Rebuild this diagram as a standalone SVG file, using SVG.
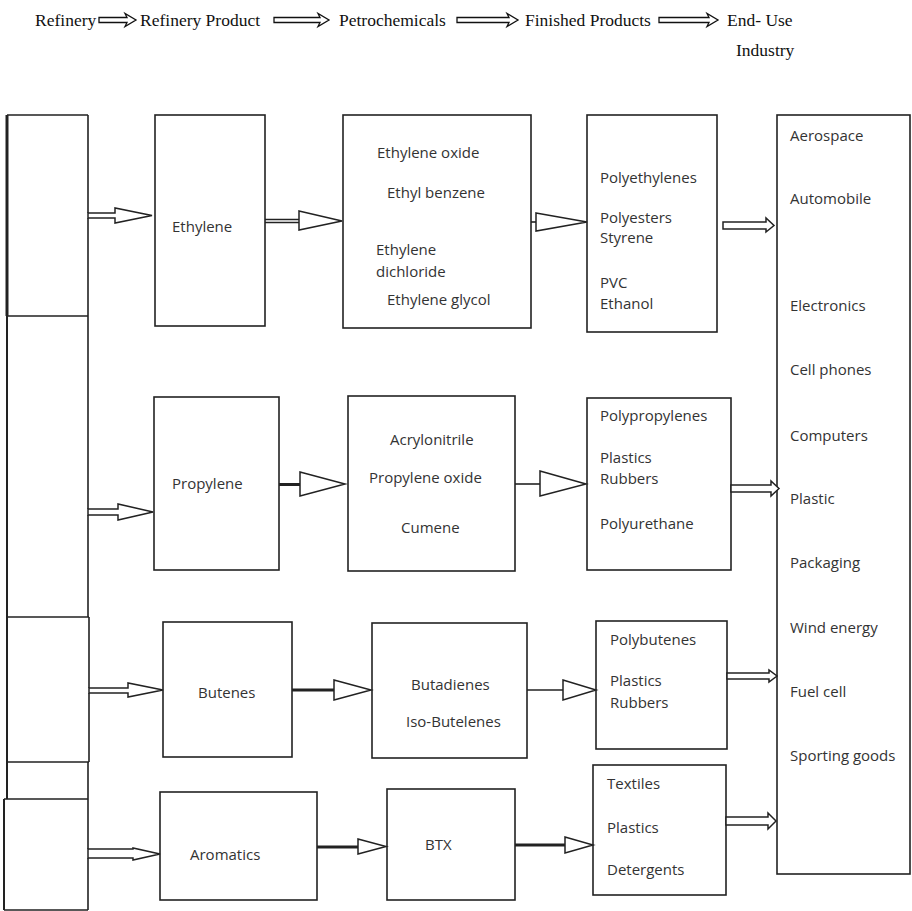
<svg xmlns="http://www.w3.org/2000/svg" width="912" height="911" viewBox="0 0 912 911">
<style>
.bx{fill:none;stroke:#222;stroke-width:1.6}
.ln{fill:none;stroke:#222;stroke-width:1.6}
.ar{fill:#fff;stroke:#222;stroke-width:1.5;stroke-linejoin:miter}
.t{font-family:"Open Sans","Liberation Sans",sans-serif;font-size:15px;fill:#333}
.h{font-family:"Liberation Serif","Times New Roman",serif;font-size:17.5px;fill:#111}
.ha{fill:#fff;stroke:#111;stroke-width:1.3}
</style>
<rect width="912" height="911" fill="#fff"/>
<g id="header">
<text class="h" x="35" y="26">Refinery</text>
<text class="h" x="140" y="26">Refinery Product</text>
<text class="h" x="339" y="26">Petrochemicals</text>
<text class="h" x="525" y="26">Finished Products</text>
<text class="h" x="727" y="26">End- Use</text>
<text class="h" x="736" y="56">Industry</text>
<polygon class="ha" points="99,17.5 127,17.5 125,13.5 136,20 125,26.5 127,22.5 99,22.5"/>
<polygon class="ha" points="274,17.5 320,17.5 318,13.5 329,20 318,26.5 320,22.5 274,22.5"/>
<polygon class="ha" points="457,17.5 509,17.5 507,13.5 518,20 507,26.5 509,22.5 457,22.5"/>
<polygon class="ha" points="659,17.5 709,17.5 707,13.5 718,20 707,26.5 709,22.5 659,22.5"/>
</g>
<g id="refinery">
<path class="ln" d="M7,115 H88 M7,316 H88 M7,617 H89 M7,762 H89 M4,799 H88 M4,910 H88"/>
<path class="ln" d="M7,115 V799 M4,799 V910" style="stroke-width:2"/>
<path class="ln" d="M7,115 V316" style="stroke-width:3"/>
<path class="ln" d="M88,115 V213 M88,218 V509 M88,515 V617 M89,617 V688 M89,693 V762 M88,762 V849 M88,858 V910"/>
</g>
<g id="ethylene"><rect class="bx" x="155" y="115" width="110" height="211"/><text class="t" x="172" y="232">Ethylene</text></g>
<g id="ethylene-petro"><rect class="bx" x="343" y="115" width="188" height="213"/>
<text class="t" x="377" y="158">Ethylene oxide</text>
<text class="t" x="387" y="198">Ethyl benzene</text>
<text class="t" x="376" y="255">Ethylene</text>
<text class="t" x="376" y="277">dichloride</text>
<text class="t" x="387" y="305">Ethylene glycol</text></g>
<g id="ethylene-finished"><rect class="bx" x="587" y="115" width="130" height="217"/>
<text class="t" x="600" y="183">Polyethylenes</text>
<text class="t" x="600" y="223">Polyesters</text>
<text class="t" x="600" y="243">Styrene</text>
<text class="t" x="600" y="288">PVC</text>
<text class="t" x="600" y="309">Ethanol</text></g>
<g id="propylene"><rect class="bx" x="154" y="397" width="125" height="173"/><text class="t" x="172" y="489">Propylene</text></g>
<g id="propylene-petro"><rect class="bx" x="348" y="396" width="167" height="175"/>
<text class="t" x="390" y="445">Acrylonitrile</text>
<text class="t" x="369" y="483">Propylene oxide</text>
<text class="t" x="401" y="533">Cumene</text></g>
<g id="propylene-finished"><rect class="bx" x="587" y="398" width="144" height="172"/>
<text class="t" x="600" y="421">Polypropylenes</text>
<text class="t" x="600" y="463">Plastics</text>
<text class="t" x="600" y="484">Rubbers</text>
<text class="t" x="600" y="529">Polyurethane</text></g>
<g id="butenes"><rect class="bx" x="163" y="622" width="129" height="135"/><text class="t" x="198" y="698">Butenes</text></g>
<g id="butenes-petro"><rect class="bx" x="372" y="623" width="155" height="135"/>
<text class="t" x="411" y="690">Butadienes</text>
<text class="t" x="406" y="727">Iso-Butelenes</text></g>
<g id="butenes-finished"><rect class="bx" x="596" y="621" width="131" height="128"/>
<text class="t" x="610" y="645">Polybutenes</text>
<text class="t" x="610" y="686">Plastics</text>
<text class="t" x="610" y="708">Rubbers</text></g>
<g id="aromatics"><rect class="bx" x="160" y="792" width="157" height="108"/><text class="t" x="190" y="860">Aromatics</text></g>
<g id="btx"><rect class="bx" x="387" y="789" width="128" height="111"/><text class="t" x="425" y="850">BTX</text></g>
<g id="aromatics-finished"><rect class="bx" x="593" y="765" width="133" height="130"/>
<text class="t" x="607" y="789">Textiles</text>
<text class="t" x="607" y="833">Plastics</text>
<text class="t" x="607" y="875">Detergents</text></g>
<g id="end-use"><rect class="bx" x="777" y="115" width="133" height="759"/>
<text class="t" x="790" y="141">Aerospace</text>
<text class="t" x="790" y="204">Automobile</text>
<text class="t" x="790" y="311">Electronics</text>
<text class="t" x="790" y="375">Cell phones</text>
<text class="t" x="790" y="441">Computers</text>
<text class="t" x="790" y="504">Plastic</text>
<text class="t" x="790" y="568">Packaging</text>
<text class="t" x="790" y="633">Wind energy</text>
<text class="t" x="790" y="697">Fuel cell</text>
<text class="t" x="790" y="761">Sporting goods</text></g>
<g id="connectors">
<polygon class="ar" points="88,213 115,213 115,208 152,215.5 115,223 115,218 88,218"/>
<polygon class="ar" points="88,509 118,509 118,504 153,512 118,520 118,515 88,515"/>
<polygon class="ar" points="89,688 128,688 128,683 163,690 128,697 128,693 89,693"/>
<polygon class="ar" points="88,849 133,849 133,848 160,854 133,860 133,858 88,858"/>
<path class="ln" d="M265,219.5 H299 M265,222.5 H299" style="stroke-width:1.3"/>
<polygon class="ar" points="299,211 342,221 299,230"/>
<path class="ln" d="M531,222 H536"/>
<polygon class="ar" points="536,213 587,222 536,231"/>
<path class="ln" d="M279,484.5 H300" style="stroke-width:3"/>
<polygon class="ar" points="300,472 345,484 300,496"/>
<path class="ln" d="M515,484 H540"/>
<polygon class="ar" points="540,471 586,484 540,496"/>
<path class="ln" d="M292,690 H334" style="stroke-width:3"/>
<polygon class="ar" points="334,680 371,690 334,700"/>
<path class="ln" d="M527,690 H563"/>
<polygon class="ar" points="563,680 596,690 563,700"/>
<path class="ln" d="M317,847 H358" style="stroke-width:3"/>
<polygon class="ar" points="358,839 386,846.5 358,854"/>
<path class="ln" d="M515,845 H565" style="stroke-width:3"/>
<polygon class="ar" points="565,837 593,845 565,853"/>
<polygon class="ar" points="723,222 766,222 766,218 774,225.5 766,232 766,229 723,229"/>
<polygon class="ar" points="731,485 771,485 771,481 779,488.5 771,496 771,492 731,492"/>
<polygon class="ar" points="727,673 769,673 769,670 777,676 769,682 769,679 727,679"/>
<polygon class="ar" points="726,817 768,817 768,813 776,821 768,829 768,825 726,825"/>
</g>
</svg>
